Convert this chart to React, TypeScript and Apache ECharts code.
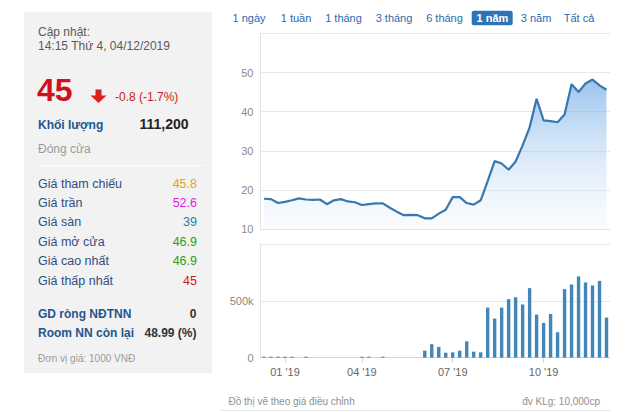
import React, { useEffect, useRef } from "react";
import * as echarts from "echarts";

// ---- Data ----
const weeks: string[] = [
  "17/12/2018", "24/12/2018", "31/12/2018", "07/01/2019", "14/01/2019", "21/01/2019", "28/01/2019",
  "11/02/2019", "18/02/2019", "25/02/2019", "04/03/2019", "11/03/2019", "18/03/2019", "25/03/2019",
  "01/04/2019", "08/04/2019", "15/04/2019", "22/04/2019", "29/04/2019", "06/05/2019", "13/05/2019",
  "20/05/2019", "27/05/2019", "03/06/2019", "10/06/2019", "17/06/2019", "24/06/2019", "01/07/2019",
  "08/07/2019", "15/07/2019", "22/07/2019", "29/07/2019", "05/08/2019", "12/08/2019", "19/08/2019",
  "26/08/2019", "02/09/2019", "09/09/2019", "16/09/2019", "23/09/2019", "30/09/2019", "07/10/2019",
  "14/10/2019", "21/10/2019", "28/10/2019", "04/11/2019", "11/11/2019", "18/11/2019", "25/11/2019",
  "02/12/2019",
];

const prices: number[] = [
  17.8, 17.7, 16.7, 17.0, 17.4, 17.9, 17.6, 17.5, 17.6, 16.4,
  17.4, 17.7, 17.1, 16.9, 16.2, 16.4, 16.6, 16.6, 15.5, 14.5,
  13.6, 13.7, 13.6, 12.8, 12.8, 14.0, 15.0, 18.2, 18.2, 16.7,
  16.3, 17.4, 22.3, 27.4, 26.8, 25.2, 27.3, 31.4, 36.0, 43.3,
  37.8, 37.6, 37.3, 39.3, 47.0, 45.0, 47.2, 48.2, 46.7, 45.6,
];

const volumes: number[] = [
  9000, 9000, 9000, 9000, 9000, 0, 9000, 0, 0, 0,
  0, 0, 0, 0, 9000, 9000, 0, 9000, 0, 0,
  0, 0, 0, 62000, 119000, 95000, 44000, 47000, 62000, 144000,
  53000, 47000, 441000, 344000, 441000, 515000, 532000, 468000, 612000, 379000,
  306000, 385000, 224000, 603000, 644000, 715000, 662000, 635000, 676000, 353000,
];

const xTickIndex: number[] = [3, 14, 27, 40];
const xTickLabels: string[] = ["01 '19", "04 '19", "07 '19", "10 '19"];

const ranges: string[] = ["1 ngày", "1 tuần", "1 tháng", "3 tháng", "6 tháng", "1 năm", "3 năm", "Tất cả"];
const rangeCenters: number[] = [249, 296, 343.5, 394, 444.5, 492.5, 536, 579];
const activeRange = 5;

const infoLabels: string[] = ["Giá tham chiếu", "Giá trần", "Giá sàn", "Giá mở cửa", "Giá cao nhất", "Giá thấp nhất"];
const infoValues: string[] = ["45.8", "52.6", "39", "46.9", "46.9", "45"];
const infoColors: string[] = ["#f39c12", "#e21fe0", "#1f7fb8", "#2e9e1a", "#2e9e1a", "#cc1a1a"];

const FF = '"Liberation Sans", Arial, sans-serif';

function txt(text: string, x: number, y: number, size: number, color: string, opts: any = {}) {
  return {
    type: "text",
    x,
    y,
    silent: true,
    style: {
      text,
      fill: color,
      fontSize: size,
      fontFamily: FF,
      fontWeight: opts.bold ? "bold" : "normal",
      align: opts.align || "left",
      verticalAlign: "middle",
    },
  };
}

export default function App() {
  const ref = useRef<HTMLDivElement>(null);

  useEffect(() => {
    if (!ref.current) return;
    const chart = echarts.init(ref.current, undefined, { renderer: "svg" });

    const graphics: any[] = [];
    // Left panel
    graphics.push({ type: "rect", shape: { x: 24, y: 12, width: 188, height: 361 }, style: { fill: "#f2f2f2" }, silent: true });
    graphics.push({ type: "line", shape: { x1: 36, y1: 165.5, x2: 206, y2: 165.5 }, style: { stroke: "#fbfbfb", lineWidth: 1 }, silent: true });
    graphics.push(txt("Cập nhật:", 38, 31.5, 12, "#5a5a5a"));
    graphics.push(txt("14:15 Thứ 4, 04/12/2019", 38, 45.5, 12, "#5a5a5a"));
    graphics.push(txt("45", 37, 89.5, 32, "#d0111b", { bold: true }));
    graphics.push({
      type: "polygon",
      silent: true,
      shape: { points: [[95.5, 89.5], [101.5, 89.5], [101.5, 95.5], [106.5, 95.5], [98.5, 103], [90.5, 95.5], [95.5, 95.5]] },
      style: { fill: "#d9221c" },
    });
    graphics.push(txt("-0.8 (-1.7%)", 115, 97, 12, "#cc1a1a"));
    graphics.push(txt("Khối lượng", 38, 124.5, 12, "#24568f", { bold: true }));
    graphics.push(txt("111,200", 188.5, 124, 14, "#222", { bold: true, align: "right" }));
    graphics.push(txt("Đóng cửa", 38, 148.5, 12, "#9a9a9a"));
    const rowY = [184, 203.3, 222.3, 241.7, 260.7, 280.7];
    infoLabels.forEach((l, i) => {
      graphics.push(txt(l, 38, rowY[i], 12.5, "#2f4f7f"));
      graphics.push(txt(infoValues[i], 197, rowY[i], 12.5, infoColors[i], { align: "right" }));
    });
    graphics.push(txt("GD ròng NĐTNN", 38, 314, 12, "#24568f", { bold: true }));
    graphics.push(txt("0", 196.5, 314, 12, "#333", { bold: true, align: "right" }));
    graphics.push(txt("Room NN còn lại", 38, 332.7, 12, "#24568f", { bold: true }));
    graphics.push(txt("48.99 (%)", 196.5, 332.7, 12, "#333", { bold: true, align: "right" }));
    graphics.push(txt("Đơn vị giá: 1000 VNĐ", 38, 358.3, 10, "#9a9a9a"));

    // Range buttons
    graphics.push({
      type: "rect",
      silent: true,
      shape: { x: 471.7, y: 10.7, width: 41, height: 14.5, r: 2 },
      style: { fill: "#2e73b6" },
    });
    ranges.forEach((r, i) => {
      graphics.push(txt(r, rangeCenters[i], 17.8, 11, i === activeRange ? "#ffffff" : "#2a6ab0", { align: "center", bold: i === activeRange }));
    });

    // Footer
    graphics.push(txt("Đồ thị vẽ theo giá điều chỉnh", 228.5, 401.7, 10, "#8f8f8f"));
    graphics.push(txt("đv KLg: 10,000cp", 600, 401.7, 10, "#8f8f8f", { align: "right" }));
    graphics.push({ type: "line", shape: { x1: 220, y1: 410.5, x2: 610, y2: 410.5 }, style: { stroke: "#e6e6e6", lineWidth: 1 }, silent: true });

    const axisLabelStyle = { color: "#8a8a8a", fontSize: 11, fontFamily: FF, margin: 7 };

    chart.setOption({
      animation: false,
      grid: [
        { left: 260.5, right: 20, top: 33.3, height: 196 },
        { left: 260.5, right: 20, top: 244, height: 113.7 },
      ],
      xAxis: [
        {
          type: "category",
          gridIndex: 0,
          data: weeks,
          boundaryGap: true,
          axisLine: { show: true, lineStyle: { color: "#e3e3e3" } },
          axisTick: { show: false },
          axisLabel: { show: false },
          splitLine: { show: false },
        },
        {
          type: "category",
          gridIndex: 1,
          data: weeks,
          boundaryGap: true,
          axisLine: { show: true, lineStyle: { color: "#ccd6eb" } },
          axisTick: {
            show: true,
            alignWithLabel: true,
            length: 5,
            interval: (i: number) => xTickIndex.includes(i),
            lineStyle: { color: "#ccd6eb" },
          },
          axisLabel: {
            show: true,
            interval: (i: number) => xTickIndex.includes(i),
            formatter: (_v: string, i: number) => {
              const k = xTickIndex.indexOf(i);
              return k >= 0 ? xTickLabels[k] : "";
            },
            color: "#666",
            fontSize: 11,
            fontFamily: FF,
            margin: 9,
          },
          splitLine: { show: false },
        },
      ],
      yAxis: [
        {
          type: "value",
          gridIndex: 0,
          min: 10,
          max: 60,
          interval: 10,
          axisLine: { show: true, lineStyle: { color: "#e3e3e3" } },
          axisTick: { show: false },
          axisLabel: { ...axisLabelStyle, formatter: (v: number) => (v === 60 ? "" : String(v)) },
          splitLine: { lineStyle: { color: "#e8e8e8" } },
        },
        {
          type: "value",
          gridIndex: 1,
          min: 0,
          max: 1000000,
          interval: 500000,
          axisLine: { show: true, lineStyle: { color: "#e3e3e3" } },
          axisTick: { show: false },
          axisLabel: {
            ...axisLabelStyle,
            formatter: (v: number) => (v === 0 ? "0" : v === 500000 ? "500k" : ""),
          },
          splitLine: { lineStyle: { color: "#e8e8e8" } },
        },
      ],
      series: [
        {
          type: "line",
          xAxisIndex: 0,
          yAxisIndex: 0,
          data: prices,
          showSymbol: false,
          lineStyle: { color: "#3778ae", width: 2.2 },
          itemStyle: { color: "#3778ae" },
          areaStyle: {
            color: new echarts.graphic.LinearGradient(0, 0, 0, 1, [
              { offset: 0, color: "rgba(104,166,230,0.95)" },
              { offset: 1, color: "rgba(225,237,251,0.25)" },
            ]),
          },
        },
        {
          type: "bar",
          xAxisIndex: 1,
          yAxisIndex: 1,
          data: volumes,
          barWidth: 3.4,
          itemStyle: { color: "#4387b9" },
        },
      ],
      graphic: graphics,
    });

    return () => chart.dispose();
  }, []);

  return (
    <div
      ref={ref}
      style={{ position: "fixed", left: 0, top: 0, width: 630, height: 412, background: "#fff" }}
    />
  );
}
